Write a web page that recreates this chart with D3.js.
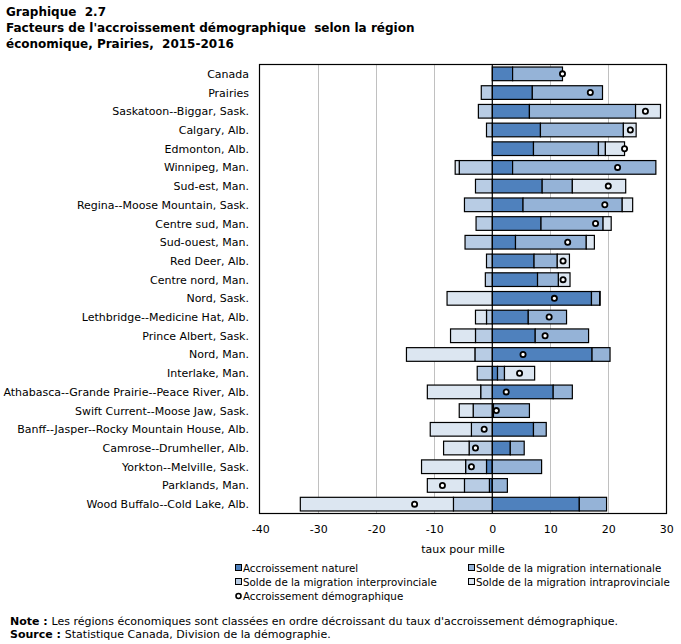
<!DOCTYPE html>
<html lang="fr">
<head>
    <meta charset="UTF-8">
    <title>Graphique 2.7</title>
    <script src="https://d3js.org/d3.v7.min.js"></script>
    <style>
        body { margin: 0; background: #fff; }
        svg text { font-family: "DejaVu Sans", sans-serif; }
        .title { font-weight: bold; font-size: 12px; white-space: pre; }
        .lbl { font-size: 11px; fill: #000; }
        .leg { font-size: 10.3px; fill: #000; }
        .grid { stroke: #c0c0c0; stroke-width: 1; }
        .seg { stroke: #000; stroke-width: 1.2; }
    </style>
</head>
<body>
    <svg></svg>

    <script>
        const width = 681;
        const height = 644;

        // rangées, de haut en bas
        const regions = [
            "Canada", "Prairies", "Saskatoon--Biggar, Sask.", "Calgary, Alb.", "Edmonton, Alb.",
            "Winnipeg, Man.", "Sud-est, Man.", "Regina--Moose Mountain, Sask.", "Centre sud, Man.",
            "Sud-ouest, Man.", "Red Deer, Alb.", "Centre nord, Man.", "Nord, Sask.",
            "Lethbridge--Medicine Hat, Alb.", "Prince Albert, Sask.", "Nord, Man.", "Interlake, Man.",
            "Athabasca--Grande Prairie--Peace River, Alb.", "Swift Current--Moose Jaw, Sask.",
            "Banff--Jasper--Rocky Mountain House, Alb.", "Camrose--Drumheller, Alb.",
            "Yorkton--Melville, Sask.", "Parklands, Man.", "Wood Buffalo--Cold Lake, Alb."
        ];
        const naturel =        [3.5, 6.9, 6.4, 8.3, 7.1, 3.5, 8.6, 5.3, 8.4, 4.0, 7.2, 7.8, 17.1, 6.2, 7.4, 17.2, 0.9, 10.5, 0.2, 7.1, 3.1, -1.0, -0.5, 15.0];
        const international =  [8.6, 12.1, 18.3, 14.3, 11.2, 24.7, 5.2, 17.1, 10.7, 12.2, 4.0, 3.6, 1.4, 6.6, 9.2, 3.1, 1.2, 3.3, 6.2, 2.2, 2.4, 8.5, 2.6, 4.7];
        const interprov =      [0, -1.9, -2.4, -1.0, 1.2, -5.7, -2.9, -4.8, -2.8, -4.7, -1.0, -1.2, 0.1, -1.0, -2.9, -3.0, -2.6, -2.0, -3.3, -3.6, -4.0, -3.6, -4.3, -6.7];
        const intraprov =      [0, 0, 4.3, 2.2, 3.3, -0.7, 9.2, 1.8, 1.4, 1.4, 2.1, 2.0, -7.8, -1.9, -4.3, -11.8, 5.2, -9.2, -2.4, -7.1, -4.4, -7.6, -6.4, -26.4];
        const accroissement =  [12.1, 16.9, 26.4, 23.8, 22.8, 21.6, 20.0, 19.4, 17.8, 13.0, 12.2, 12.2, 10.7, 9.8, 9.1, 5.3, 4.7, 2.4, 0.7, -1.4, -2.9, -3.6, -8.6, -13.4];

        const xTicks = [-40, -30, -20, -10, 0, 10, 20, 30];
        const keys = ["naturel", "international", "interprov", "intraprov"];
        const keyLabels = ["Accroissement naturel", "Solde de la migration internationale",
                           "Solde de la migration interprovinciale", "Solde de la migration intraprovinciale"];
        const colors = ["#4f81bd", "#95b3d7", "#b8cce4", "#dce6f1"];

        const table = regions.map((r, i) => ({
            region: r, naturel: naturel[i], international: international[i],
            interprov: interprov[i], intraprov: intraprov[i], total: accroissement[i]
        }));

        const svg = d3.select('svg')
            .attr('width', width)
            .attr('height', height)
            .attr('viewBox', [0, 0, width, height]);

        const plot = {left: 259.5, right: 666.5, top: 64.5, bottom: 513.5};

        const x = d3.scaleLinear().domain([-40, 30]).range([260.3, 666.3]);
        const y = d3.scaleBand().domain(regions).range([plot.top, plot.bottom]).paddingInner(0.27).paddingOuter(0.135);

        // titre
        const title = svg.append("text").attr("class", "title");
        ["Graphique  2.7", "Facteurs de l'accroissement démographique  selon la région", "économique, Prairies,  2015-2016"]
            .forEach((t, i) => title.append("tspan").attr("x", 6).attr("y", 16 + i * 16).text(t));

        // grille
        svg.append("g").selectAll("line")
            .data(xTicks.filter(d => d !== -40 && d !== 30 && d !== 0))
            .join("line").attr("class", "grid")
            .attr("x1", d => Math.round(x(d)) + 0.5).attr("x2", d => Math.round(x(d)) + 0.5)
            .attr("y1", plot.top).attr("y2", plot.bottom);

        // barres empilées
        const series = d3.stack().keys(keys).offset(d3.stackOffsetDiverging)(table);
        svg.append("g").selectAll("g")
            .data(series)
            .join("g").attr("fill", (d, i) => colors[i])
            .selectAll("rect")
            .data(d => d.filter(s => Math.abs(s[1] - s[0]) > 0.001))
            .join("rect").attr("class", "seg")
            .attr("x", d => x(Math.min(d[0], d[1])))
            .attr("width", d => Math.abs(x(d[1]) - x(d[0])))
            .attr("y", d => y(d.data.region))
            .attr("height", y.bandwidth());

        // ligne zéro
        svg.append("line")
            .attr("x1", x(0)).attr("x2", x(0))
            .attr("y1", plot.top).attr("y2", plot.bottom)
            .attr("stroke", "#000").attr("stroke-width", 1.2);

        // points
        svg.append("g").selectAll("circle")
            .data(table)
            .join("circle")
            .attr("cx", d => x(d.total))
            .attr("cy", d => y(d.region) + y.bandwidth() / 2)
            .attr("r", 2.6)
            .attr("fill", "#fff").attr("stroke", "#000").attr("stroke-width", 1.8);

        // cadre
        svg.append("rect")
            .attr("x", plot.left).attr("y", plot.top)
            .attr("width", plot.right - plot.left).attr("height", plot.bottom - plot.top)
            .attr("fill", "none").attr("stroke", "#000").attr("stroke-width", 1.2);

        // étiquettes des régions
        svg.append("g").selectAll("text")
            .data(regions)
            .join("text").attr("class", "lbl")
            .attr("x", 249)
            .attr("y", d => y(d) + y.bandwidth() / 2 + 4)
            .attr("text-anchor", "end")
            .text(d => d);

        // axe x
        const xAxis = svg.append("g")
            .attr("transform", `translate(0,${plot.bottom})`)
            .call(d3.axisBottom(x).tickValues(xTicks).tickFormat(d => String(d)).tickSize(0).tickPadding(12));
        xAxis.select(".domain").remove();
        xAxis.selectAll("text").attr("class", "lbl").attr("font-family", null).attr("font-size", null);

        svg.append("text").attr("class", "lbl")
            .attr("x", 463).attr("y", 553).attr("text-anchor", "middle")
            .text("taux pour mille");

        // légende
        const legPos = [[235, 572], [468, 572], [235, 586], [468, 586]];
        const leg = svg.append("g");
        keys.forEach((k, i) => {
            leg.append("rect")
                .attr("x", legPos[i][0] + 0.5).attr("y", legPos[i][1] - 7.5)
                .attr("width", 6).attr("height", 6)
                .attr("fill", colors[i]).attr("stroke", "#000").attr("stroke-width", 1);
            leg.append("text").attr("class", "leg")
                .attr("x", legPos[i][0] + 8).attr("y", legPos[i][1])
                .text(keyLabels[i]);
        });
        leg.append("circle").attr("cx", 238.5).attr("cy", 596).attr("r", 2.5)
            .attr("fill", "#fff").attr("stroke", "#000").attr("stroke-width", 1.6);
        leg.append("text").attr("class", "leg").attr("x", 243).attr("y", 600)
            .text("Accroissement démographique");

        // notes
        const n1 = svg.append("text").attr("class", "lbl").attr("x", 10).attr("y", 625);
        n1.append("tspan").attr("font-weight", "bold").text("Note : ");
        n1.append("tspan").text("Les régions économiques sont classées en ordre décroissant du taux d'accroissement démographique.");
        const n2 = svg.append("text").attr("class", "lbl").attr("x", 10).attr("y", 638);
        n2.append("tspan").attr("font-weight", "bold").text("Source : ");
        n2.append("tspan").text("Statistique Canada, Division de la démographie.");
    </script>
</body>
</html>
